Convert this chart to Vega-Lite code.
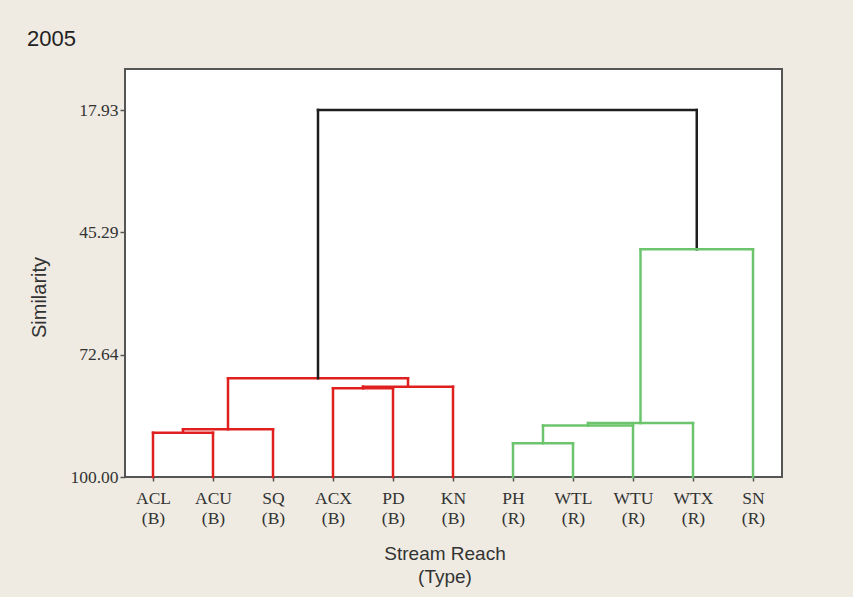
{
  "$schema": "https://vega.github.io/schema/vega-lite/v6.json",
  "width": 657,
  "height": 408,
  "autosize": {"type": "none"},
  "padding": {"left": 125, "top": 69, "right": 71, "bottom": 120},
  "background": "#EFEBE2",
  "title": {
    "text": "2005",
    "anchor": "start",
    "frame": "group",
    "dx": -98,
    "offset": 1,
    "baseline": "alphabetic",
    "font": "Liberation Sans",
    "fontSize": 22,
    "fontWeight": "normal",
    "color": "#222222"
  },
  "config": {
    "view": {"stroke": "#555555", "strokeWidth": 2, "fill": "#FFFFFF"},
    "axis": {"grid": false, "domain": false, "tickColor": "#555555", "tickWidth": 1.5, "tickSize": 5,
      "labelColor": "#333333", "labelFont": "Liberation Serif", "labelFontSize": 17.5,
      "titleColor": "#333333", "titleFont": "Liberation Sans", "titleFontSize": 19, "titleFontWeight": "normal"}
  },
  "data": {
    "values": [
      {"x": 1, "x2": 1, "y": 100, "y2": 90.1, "g": "B"},
      {"x": 2, "x2": 2, "y": 100, "y2": 90.1, "g": "B"},
      {"x": 1, "x2": 2, "y": 90.1, "y2": 90.1, "g": "B"},
      {"x": 1.5, "x2": 1.5, "y": 90.1, "y2": 89.33, "g": "B"},
      {"x": 3, "x2": 3, "y": 100, "y2": 89.33, "g": "B"},
      {"x": 1.5, "x2": 3, "y": 89.33, "y2": 89.33, "g": "B"},
      {"x": 2.25, "x2": 2.25, "y": 89.33, "y2": 77.93, "g": "B"},
      {"x": 4, "x2": 4, "y": 100, "y2": 80.16, "g": "B"},
      {"x": 5, "x2": 5, "y": 100, "y2": 80.16, "g": "B"},
      {"x": 4, "x2": 5, "y": 80.16, "y2": 80.16, "g": "B"},
      {"x": 4.5, "x2": 4.5, "y": 80.16, "y2": 79.8, "g": "B"},
      {"x": 6, "x2": 6, "y": 100, "y2": 79.8, "g": "B"},
      {"x": 4.5, "x2": 6, "y": 79.8, "y2": 79.8, "g": "B"},
      {"x": 5.25, "x2": 5.25, "y": 79.8, "y2": 77.93, "g": "B"},
      {"x": 2.25, "x2": 5.25, "y": 77.93, "y2": 77.93, "g": "B"},
      {"x": 3.75, "x2": 3.75, "y": 77.93, "y2": 17.93, "g": "T"},
      {"x": 3.75, "x2": 10.0625, "y": 17.93, "y2": 17.93, "g": "T"},
      {"x": 10.0625, "x2": 10.0625, "y": 17.93, "y2": 49.08, "g": "T"},
      {"x": 7, "x2": 7, "y": 100, "y2": 92.46, "g": "R"},
      {"x": 8, "x2": 8, "y": 100, "y2": 92.46, "g": "R"},
      {"x": 7, "x2": 8, "y": 92.46, "y2": 92.46, "g": "R"},
      {"x": 7.5, "x2": 7.5, "y": 92.46, "y2": 88.5, "g": "R"},
      {"x": 9, "x2": 9, "y": 100, "y2": 88.5, "g": "R"},
      {"x": 7.5, "x2": 9, "y": 88.5, "y2": 88.5, "g": "R"},
      {"x": 8.25, "x2": 8.25, "y": 88.5, "y2": 87.95, "g": "R"},
      {"x": 10, "x2": 10, "y": 100, "y2": 87.95, "g": "R"},
      {"x": 8.25, "x2": 10, "y": 87.95, "y2": 87.95, "g": "R"},
      {"x": 9.125, "x2": 9.125, "y": 87.95, "y2": 49.08, "g": "R"},
      {"x": 11, "x2": 11, "y": 100, "y2": 49.08, "g": "R"},
      {"x": 9.125, "x2": 11, "y": 49.08, "y2": 49.08, "g": "R"}
    ]
  },
  "mark": {"type": "rule", "strokeWidth": 2.5, "strokeCap": "square"},
  "encoding": {
    "x": {
      "field": "x", "type": "quantitative",
      "scale": {"domain": [0.5333, 11.4833], "nice": false, "zero": false},
      "axis": {
        "values": [1, 2, 3, 4, 5, 6, 7, 8, 9, 10, 11],
        "labelExpr": "[['ACL','ACU','SQ','ACX','PD','KN','PH','WTL','WTU','WTX','SN'][datum.value - 1], datum.value <= 6 ? '(B)' : '(R)']",
        "labelLineHeight": 20,
        "labelPadding": 8,
        "labelFlush": false,
        "labelOverlap": false,
        "tickSize": 4,
        "title": ["Stream Reach", "(Type)"],
        "titleLineHeight": 23,
        "titleX": 319.5,
        "titleY": 82,
        "titleAnchor": null,
        "titleAlign": "center",
        "titleBaseline": "alphabetic"
      }
    },
    "x2": {"field": "x2"},
    "y": {
      "field": "y", "type": "quantitative",
      "scale": {"domain": [8.76, 100], "reverse": true, "nice": false, "zero": false},
      "axis": {
        "values": [17.93, 45.29, 72.64, 100],
        "format": ".2f",
        "labelPadding": 2,
        "title": "Similarity",
        "titleFontSize": 20,
        "titleX": -80,
        "titleY": 228,
        "titleAlign": "center",
        "titleBaseline": "alphabetic",
        "titleAngle": -90
      }
    },
    "y2": {"field": "y2"},
    "color": {
      "field": "g", "type": "nominal",
      "scale": {"domain": ["B", "T", "R"], "range": ["#E0201F", "#1E1E1E", "#6CC46C"]},
      "legend": null
    }
  }
}
